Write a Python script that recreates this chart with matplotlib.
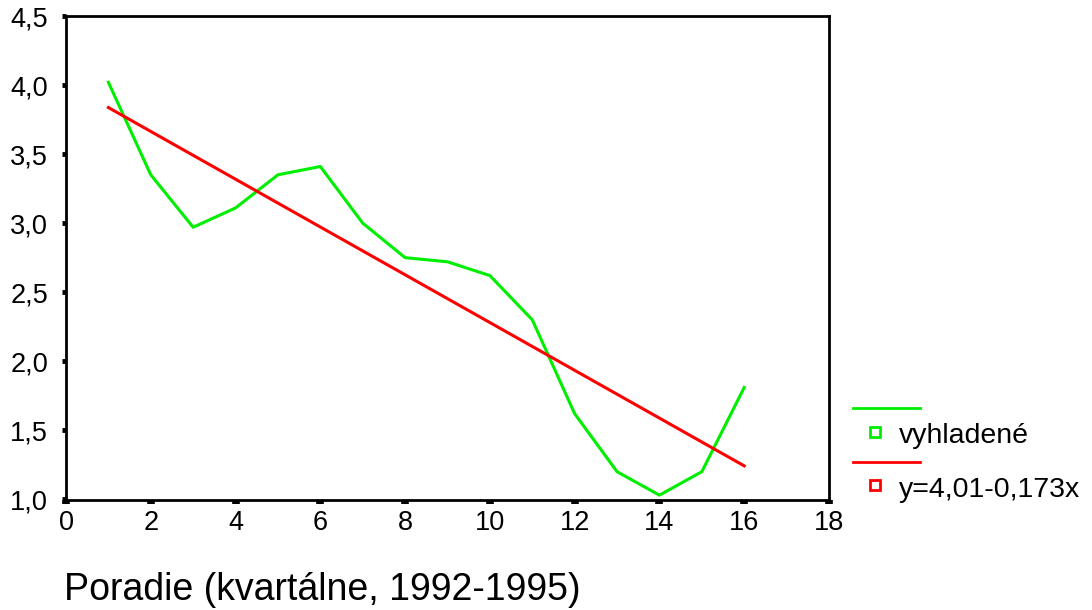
import matplotlib
matplotlib.use("Agg")
import matplotlib.pyplot as plt
from matplotlib.lines import Line2D
from matplotlib.ticker import FuncFormatter

plt.rcParams['font.family'] = ['Liberation Sans', 'DejaVu Sans']

x = [1, 2, 3, 4, 5, 6, 7, 8, 9, 10, 11, 12, 13, 14, 15, 16]
smoothed = [4.02, 3.35, 2.97, 3.11, 3.35, 3.41, 3.00, 2.75, 2.72, 2.62, 2.30, 1.62, 1.20, 1.03, 1.20, 1.81]
fitted = [3.837, 3.664, 3.491, 3.318, 3.145, 2.972, 2.799, 2.626, 2.453, 2.280, 2.107, 1.934, 1.761, 1.588, 1.415, 1.242]
label_smoothed = "vyhladené"
label_fit = "y=4,01-0,173x"
xlabel = "Poradie (kvartálne, 1992-1995)"
xticks = [0, 2, 4, 6, 8, 10, 12, 14, 16, 18]
yticks = [1.0, 1.5, 2.0, 2.5, 3.0, 3.5, 4.0, 4.5]

green = '#00ee00'
red = '#ff0000'

fig = plt.figure(figsize=(10.92, 6.10), dpi=100)
ax = fig.add_axes([66/1092, 1-500/610, (829-66)/1092, (500-16)/610])
ax.plot(x, smoothed, color=green, lw=2.2)
ax.plot(x, fitted, color=red, lw=2.2)
ax.set_xlim(0, 18)
ax.set_ylim(0.995, 4.5)
ax.set_xticks(xticks)
ax.set_yticks(yticks)
ax.yaxis.set_major_formatter(FuncFormatter(lambda v, p: f"{v:.1f}".replace('.', ',')))
ax.xaxis.set_major_formatter(FuncFormatter(lambda v, p: f"{int(v)}"))
for s in ax.spines.values():
    s.set_linewidth(2)
ax.tick_params(axis='both', direction='out', labelsize=19.5, color='black')
ax.tick_params(axis='y', length=3, width=3.5, pad=10)
ax.tick_params(axis='x', length=3, width=5.5, pad=4)
fig.text(64/1092, 1-590/610, xlabel, fontsize=27, ha='left', va='center')

# custom legend
def lx(px):
    return px/1092
def ly(py):
    return 1-py/610
fig.add_artist(Line2D([lx(853), lx(920)], [ly(408), ly(408)], color=green, lw=2))
fig.add_artist(Line2D([lx(875)], [ly(432)], marker='s', ms=7, mfc='none', mec=green, mew=2, ls='none'))
fig.text(lx(899), ly(436), label_smoothed, fontsize=20.5, ha='left', va='center')
fig.add_artist(Line2D([lx(853), lx(920)], [ly(462), ly(462)], color=red, lw=2))
fig.add_artist(Line2D([lx(875)], [ly(485)], marker='s', ms=7, mfc='none', mec=red, mew=2, ls='none'))
fig.text(lx(899), ly(490), label_fit, fontsize=20.5, ha='left', va='center')

fig.savefig('out.png', dpi=100)
